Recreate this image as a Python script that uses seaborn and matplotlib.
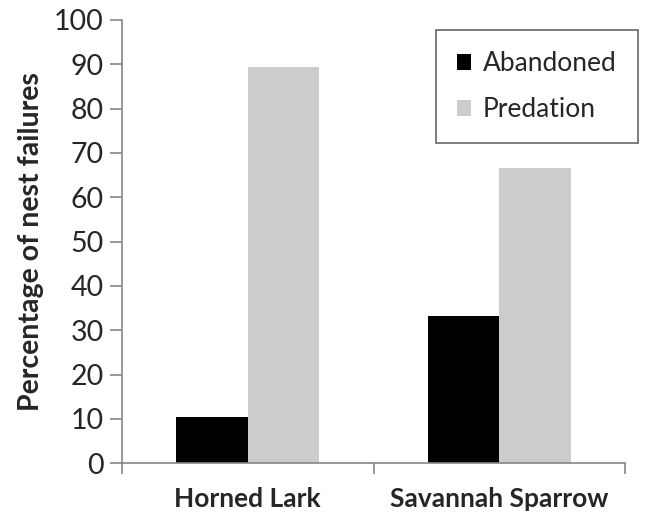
import matplotlib
matplotlib.use("Agg")
import matplotlib.pyplot as plt
import seaborn as sns
import pandas as pd
from matplotlib.ticker import FixedLocator

species = ["Horned Lark", "Savannah Sparrow"]
causes = ["Abandoned", "Predation"]
abandoned = [10.5, 33.3]
predation = [89.5, 66.6]
colors = ["#000000", "#CCCCCC"]
yticks = [0, 10, 20, 30, 40, 50, 60, 70, 80, 90, 100]

df = pd.DataFrame({
    "species": species * 2,
    "cause": [causes[0]] * 2 + [causes[1]] * 2,
    "value": abandoned + predation,
})

sns.set_style("white")
plt.rcParams["font.family"] = ["Lato", "DejaVu Sans"]

fig = plt.figure(figsize=(6.45, 5.14), dpi=100)
ax = fig.add_axes([0.1887, 0.0986, 0.7808, 0.8625])

sns.barplot(data=df, x="species", y="value", hue="cause", order=species,
            hue_order=causes, palette=colors, width=0.57, saturation=1,
            linewidth=0, ax=ax)

ax.set_xlim(-0.5, 1.5)
ax.set_ylim(0, 100)
ax.set_yticks(yticks)
ax.set_yticklabels([str(t) for t in yticks], fontsize=20.5)
ax.tick_params(axis="y", direction="out", length=9, width=1.2, color="#868686",
               pad=4, left=True)
ax.set_xticks([0, 1])
ax.set_xticklabels(species, fontsize=19, fontweight="bold")
ax.tick_params(axis="x", which="major", length=0, pad=17)
ax.xaxis.set_minor_locator(FixedLocator([-0.5, 0.5, 1.5]))
ax.tick_params(axis="x", which="minor", direction="out", length=8, width=1.2,
               color="#868686", bottom=True)
ax.set_xlabel("")
ax.set_ylabel("Percentage of nest failures", fontsize=20.5, fontweight="bold", labelpad=7)

for s in ["top", "right"]:
    ax.spines[s].set_visible(False)
for s in ["left", "bottom"]:
    ax.spines[s].set_color("#868686")
    ax.spines[s].set_linewidth(1.2)

leg = ax.legend(loc="upper right", bbox_to_anchor=(0.989, 0.9416),
                bbox_transform=fig.transFigure, fontsize=19, frameon=True,
                fancybox=False, edgecolor="#404040", borderpad=0.8,
                handlelength=0.55, handleheight=0.55, handletextpad=0.45,
                labelspacing=0.8, borderaxespad=0)
leg.get_frame().set_linewidth(1.2)

fig.savefig("out.png", dpi=100, facecolor="white")
